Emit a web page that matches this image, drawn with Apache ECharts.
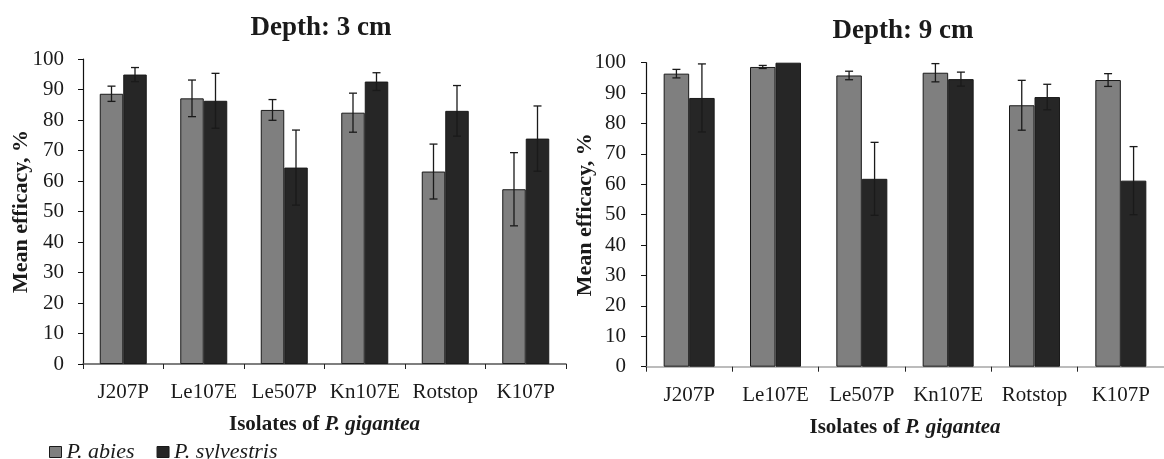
<!DOCTYPE html>
<html>
<head>
<meta charset="utf-8">
<script src="https://cdn.jsdelivr.net/npm/echarts@6/dist/echarts.min.js"></script>
<style>
html,body{margin:0;padding:0;background:#fff;}
#chart{width:1164px;height:459px;}
</style>
</head>
<body>
<div id="chart"></div>
<script>
const categories = ['J207P', 'Le107E', 'Le507P', 'Kn107E', 'Rotstop', 'K107P'];
const yTicks = [0, 10, 20, 30, 40, 50, 60, 70, 80, 90, 100];
const seriesNames = ['P. abies', 'P. sylvestris'];
const titles = ['Depth: 3 cm', 'Depth: 9 cm'];

// Depth 3 cm
const abies3 = [88.6, 87.1, 83.3, 82.4, 63.1, 57.3];
const abies3Err = [2.5, 6.0, 3.4, 6.4, 9.0, 12.0];
const sylv3 = [94.9, 86.3, 64.4, 92.6, 83.0, 73.9];
const sylv3Err = [2.3, 9.0, 12.3, 2.9, 8.3, 10.7];
// Depth 9 cm
const abies9 = [96.4, 98.6, 95.8, 96.7, 86.0, 94.3];
const abies9Err = [1.4, 0.5, 1.4, 3.0, 8.2, 2.1];
const sylv9 = [88.4, 100, 61.8, 94.6, 88.7, 61.2];
const sylv9Err = [11.2, 0, 12.0, 2.3, 4.2, 11.2];

const FONT = '"Liberation Serif", "Times New Roman", serif';
const GRAY = '#7f7f7f';
const DARK = '#262626';

const barW = [23.5, 25.5];

function errSeries(gi, vals, errs, side) {
  const w = barW[gi];
  return {
    type: 'custom',
    xAxisIndex: gi, yAxisIndex: gi,
    silent: true, z: 5,
    data: vals.map((v, i) => [i, v, errs[i]]),
    encode: { x: 0, y: 1 },
    renderItem: function (params, api) {
      const idx = api.value(0), v = api.value(1), e = api.value(2);
      if (!e) return null;
      const c = api.coord([idx, v]);
      const x = c[0] + side * w / 2;
      const top = api.coord([idx, v + e])[1];
      const bot = api.coord([idx, v - e])[1];
      const cap = 4;
      const st = { stroke: '#1a1a1a', lineWidth: 1.3 };
      return {
        type: 'group',
        children: [
          { type: 'line', shape: { x1: x, y1: top, x2: x, y2: bot }, style: st },
          { type: 'line', shape: { x1: x - cap, y1: top, x2: x + cap, y2: top }, style: st },
          { type: 'line', shape: { x1: x - cap, y1: bot, x2: x + cap, y2: bot }, style: st }
        ]
      };
    }
  };
}

function barSeries(gi, name, vals, color) {
  return {
    type: 'bar', name: name,
    xAxisIndex: gi, yAxisIndex: gi,
    data: vals,
    barWidth: barW[gi], barGap: '0%',
    itemStyle: { color: color, borderColor: '#1a1a1a', borderWidth: 1 }
  };
}

const xAxisLineColors = ['#555', '#a6a6a6'];
const yNameGap = [51, 50];
const yLabelMargin = [19, 20];

function xAxisCfg(gi) {
  return {
    type: 'category', gridIndex: gi, data: categories,
    axisLine: { lineStyle: { color: xAxisLineColors[gi], width: 1.5 } },
    axisTick: { show: true, length: 5, lineStyle: { color: '#222' } },
    axisLabel: { fontFamily: FONT, fontSize: 21, color: '#1a1a1a', margin: 18, interval: 0 },
    name: '{a|Isolates of }{b|P. gigantea}',
    nameLocation: 'middle', nameGap: 50,
    nameTextStyle: {
      rich: {
        a: { fontFamily: FONT, fontSize: 21, fontWeight: 'bold', color: '#1a1a1a' },
        b: { fontFamily: FONT, fontSize: 21, fontWeight: 'bold', fontStyle: 'italic', color: '#1a1a1a' }
      }
    }
  };
}

function yAxisCfg(gi) {
  return {
    type: 'value', gridIndex: gi, min: yTicks[0], max: yTicks[yTicks.length - 1], interval: 10,
    splitLine: { show: false },
    axisLine: { show: true, lineStyle: { color: '#111', width: 1.2 } },
    axisTick: { show: true, length: 5, lineStyle: { color: '#111' } },
    axisLabel: { fontFamily: FONT, fontSize: 21, color: '#1a1a1a', margin: yLabelMargin[gi] },
    name: 'Mean efficacy, %', nameLocation: 'middle', nameGap: yNameGap[gi],
    nameMoveOverlap: false,
    nameTextStyle: { fontFamily: FONT, fontSize: 22, fontWeight: 'bold', color: '#1a1a1a' }
  };
}

const chart = echarts.init(document.getElementById('chart'), null, { renderer: 'canvas' });
chart.setOption({
  animation: false,
  backgroundColor: '#fff',
  title: [
    { text: titles[0], left: 316, top: 10, textAlign: 'center',
      textStyle: { fontFamily: FONT, fontSize: 27, fontWeight: 'bold', color: '#1a1a1a' } },
    { text: titles[1], left: 898, top: 13, textAlign: 'center',
      textStyle: { fontFamily: FONT, fontSize: 27, fontWeight: 'bold', color: '#1a1a1a' } }
  ],
  legend: {
    data: seriesNames, left: 44, top: 436, icon: 'rect',
    itemWidth: 12, itemHeight: 11, itemGap: 22,
    itemStyle: { borderColor: '#1a1a1a', borderWidth: 1 },
    textStyle: { fontFamily: FONT, fontSize: 22, fontStyle: 'italic', color: '#1a1a1a' }
  },
  grid: [
    { left: 83, top: 59, width: 483, height: 305 },
    { left: 646, top: 62.7, width: 525, height: 304 }
  ],
  xAxis: [xAxisCfg(0), xAxisCfg(1)],
  yAxis: [yAxisCfg(0), yAxisCfg(1)],
  series: [
    barSeries(0, seriesNames[0], abies3, GRAY),
    barSeries(0, seriesNames[1], sylv3, DARK),
    barSeries(1, seriesNames[0], abies9, GRAY),
    barSeries(1, seriesNames[1], sylv9, DARK),
    errSeries(0, abies3, abies3Err, -1),
    errSeries(0, sylv3, sylv3Err, 1),
    errSeries(1, abies9, abies9Err, -1),
    errSeries(1, sylv9, sylv9Err, 1)
  ]
});
</script>
</body>
</html>
